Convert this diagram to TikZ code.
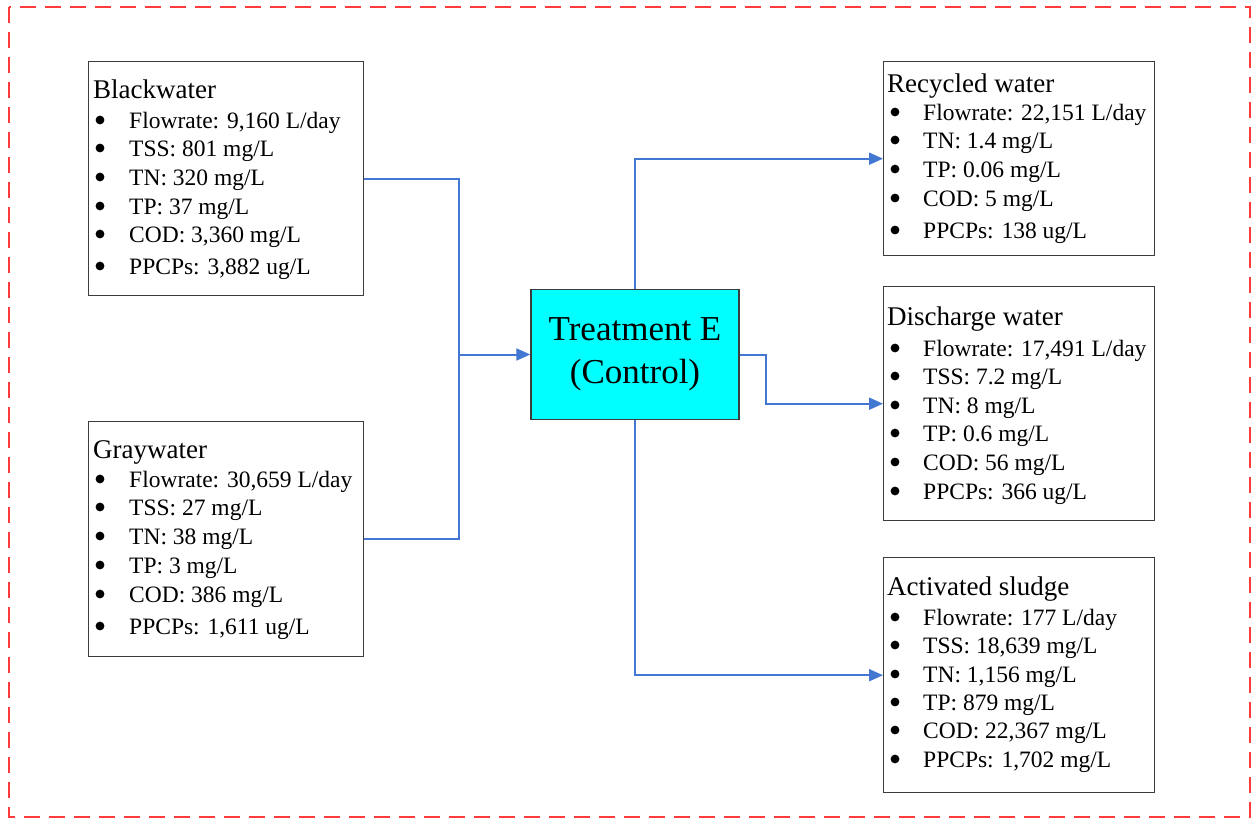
\documentclass[tikz,border=0pt]{standalone}
\usepackage{fontspec}
\setmainfont{Liberation Serif}
\usetikzlibrary{arrows.meta,calc}
\definecolor{flowblue}{RGB}{66,120,210}
\definecolor{boxgray}{RGB}{60,60,60}
\definecolor{framered}{RGB}{255,60,60}
\definecolor{treatcyan}{RGB}{0,255,255}
\tikzset{
  databox/.style={draw=boxgray, line width=1.4pt, fill=white, anchor=north west, inner sep=0pt},
  titletext/.style={anchor=base west, inner sep=0pt, font=\fontsize{27}{27}\selectfont},
  itemtext/.style={anchor=base west, inner sep=0pt, font=\fontsize{23.5}{23.5}\selectfont},
  bulletdot/.style={fill=black},
  flow/.style={draw=flowblue, line width=2pt},
  flowarrow/.style={flow, -{Triangle[length=14pt,width=12pt]}},
  treatbox/.style={draw=boxgray, line width=1.4pt, fill=treatcyan, minimum width=208pt, minimum height=130pt,
    align=center, inner sep=0pt, font=\fontsize{35}{43}\selectfont},
}
\begin{document}
\begin{tikzpicture}[x=1pt,y=-1pt]
\useasboundingbox (0,0) rectangle (1253,819);
\draw[framered, line width=2pt, dash pattern=on 16pt off 9pt] (9,7) rectangle (1250,817);

% Blackwater
\node[databox, minimum width=275pt, minimum height=234pt] (bw) at (88,61) {};
\node[titletext] (bw-t) at (93,98) {Blackwater};
\foreach \yy/\txt [count=\i] in {128/{Flowrate: 9,160 L/day}, 156/{TSS: 801 mg/L}, 185/{TN: 320 mg/L},
  214/{TP: 37 mg/L}, 242/{COD: 3,360 mg/L}, 274/{PPCPs: 3,882 ug/L}}
  {\node[itemtext] (bw-\i) at (129,\yy) {\txt};
   \fill[bulletdot] ($(bw-\i.base west)+(-29,-8)$) circle (4.4);}

% Graywater
\node[databox, minimum width=275pt, minimum height=235pt] (gw) at (88,421) {};
\node[titletext] (gw-t) at (93,458) {Graywater};
\foreach \yy/\txt [count=\i] in {487/{Flowrate: 30,659 L/day}, 515/{TSS: 27 mg/L}, 544/{TN: 38 mg/L},
  573/{TP: 3 mg/L}, 602/{COD: 386 mg/L}, 634/{PPCPs: 1,611 ug/L}}
  {\node[itemtext] (gw-\i) at (129,\yy) {\txt};
   \fill[bulletdot] ($(gw-\i.base west)+(-29,-8)$) circle (4.4);}

% Treatment
\node[treatbox] (tr) at (635,354.5) {Treatment E\\(Control)};

% Recycled water
\node[databox, minimum width=271pt, minimum height=194pt] (rw) at (883,61) {};
\node[titletext] (rw-t) at (887,92) {Recycled water};
\foreach \yy/\txt [count=\i] in {120/{Flowrate: 22,151 L/day}, 148/{TN: 1.4 mg/L}, 177/{TP: 0.06 mg/L},
  206/{COD: 5 mg/L}, 238/{PPCPs: 138 ug/L}}
  {\node[itemtext] (rw-\i) at (923,\yy) {\txt};
   \fill[bulletdot] ($(rw-\i.base west)+(-28,-8)$) circle (4.4);}

% Discharge water
\node[databox, minimum width=271pt, minimum height=234pt] (dw) at (883,286) {};
\node[titletext] (dw-t) at (887,325) {Discharge water};
\foreach \yy/\txt [count=\i] in {356/{Flowrate: 17,491 L/day}, 384/{TSS: 7.2 mg/L}, 413/{TN: 8 mg/L},
  441/{TP: 0.6 mg/L}, 470/{COD: 56 mg/L}, 499/{PPCPs: 366 ug/L}}
  {\node[itemtext] (dw-\i) at (923,\yy) {\txt};
   \fill[bulletdot] ($(dw-\i.base west)+(-28,-8)$) circle (4.4);}

% Activated sludge
\node[databox, minimum width=271pt, minimum height=235pt] (as) at (883,557) {};
\node[titletext] (as-t) at (887,595) {Activated sludge};
\foreach \yy/\txt [count=\i] in {625/{Flowrate: 177 L/day}, 653/{TSS: 18,639 mg/L}, 682/{TN: 1,156 mg/L},
  710/{TP: 879 mg/L}, 738/{COD: 22,367 mg/L}, 767/{PPCPs: 1,702 mg/L}}
  {\node[itemtext] (as-\i) at (923,\yy) {\txt};
   \fill[bulletdot] ($(as-\i.base west)+(-28,-8)$) circle (4.4);}

% Connectors
\coordinate (jn) at (459,354.5);
\coordinate (dj) at (766,354.5);
\draw[flow] (bw.east) -| (jn);
\draw[flow] (gw.east) -| (jn);
\draw[flowarrow] (jn) -- (tr.west);
\draw[flowarrow] (tr.north) |- (rw.west);
\draw[flowarrow] (tr.east) -- (dj) |- (dw.west);
\draw[flowarrow] (tr.south) |- (as.west);
\end{tikzpicture}
\end{document}
